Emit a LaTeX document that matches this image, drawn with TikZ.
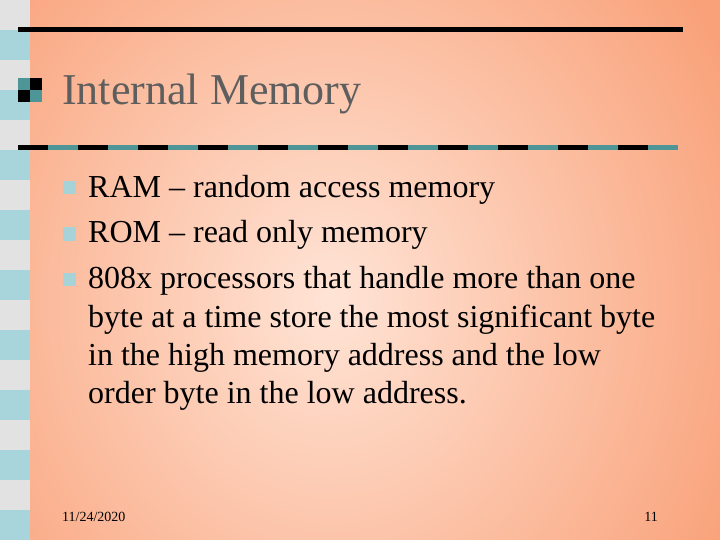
\documentclass[tikz,border=0pt]{standalone}
\usepackage{fontspec}
\setmainfont{Liberation Serif}
\definecolor{salmon}{HTML}{F9A27A}
\definecolor{peach}{HTML}{FFE4D6}
\definecolor{stripgrey}{HTML}{E2E2E2}
\definecolor{stripblue}{HTML}{A8D4DC}
\definecolor{teal}{HTML}{4E9598}
\definecolor{titlegrey}{HTML}{5E5E5E}
\definecolor{bulletblue}{HTML}{A6D2D8}
\tikzset{
  body/.style={anchor=base west, inner sep=0pt, font=\fontsize{32pt}{38pt}\selectfont},
  bul/.style={fill=bulletblue, minimum size=13pt, inner sep=0pt},
}
\begin{document}
\begin{tikzpicture}[x=1pt,y=-1pt]
\useasboundingbox (0,0) rectangle (720,540);
\path[shading=radial, inner color=peach, outer color=salmon] (-120,-200) rectangle (780,800);
\fill[stripgrey] (0,0) rectangle (30,540);
\foreach \i in {1,3,...,17} \fill[stripblue] (0,\i*30) rectangle (30,\i*30+30);
\fill[black] (18,27.5) rectangle (683,32.5);
\fill[teal] (18,78) rectangle (30,90);
\fill[black] (30,78) rectangle (42,90);
\fill[black] (18,90) rectangle (30,102);
\fill[teal] (30,90) rectangle (42,102);
\foreach \i in {0,...,21} {
  \pgfmathsetmacro{\xa}{18+30*\i}
  \ifodd\i \fill[teal] (\xa,145.5) rectangle (\xa+30,150.5);
  \else \fill[black] (\xa,145.5) rectangle (\xa+30,150.5); \fi
}
\node[anchor=base west, inner sep=0pt, text=titlegrey, font=\fontsize{44pt}{50pt}\selectfont] (title) at (62,105) {Internal Memory};
\node[bul] (b1) at (69,188) {};
\node[body] (t1) at (88,197) {RAM – random access memory};
\node[bul] (b2) at (69,234) {};
\node[body] (t2) at (88,243) {ROM – read only memory};
\node[bul] (b3) at (69,279) {};
\node[body] (t3) at (88,288) {808x processors that handle more than one};
\node[body] (t4) at (88,327) {byte at a time store the most significant byte};
\node[body] (t5) at (88,365) {in the high memory address and the low};
\node[body] (t6) at (88,403) {order byte in the low address.};
\node[anchor=base west, inner sep=0pt, font=\fontsize{14pt}{16pt}\selectfont] (date) at (62,521) {11/24/2020};
\node[anchor=base east, inner sep=0pt, font=\fontsize{14pt}{16pt}\selectfont] (page) at (658,521) {11};
\end{tikzpicture}
\end{document}
